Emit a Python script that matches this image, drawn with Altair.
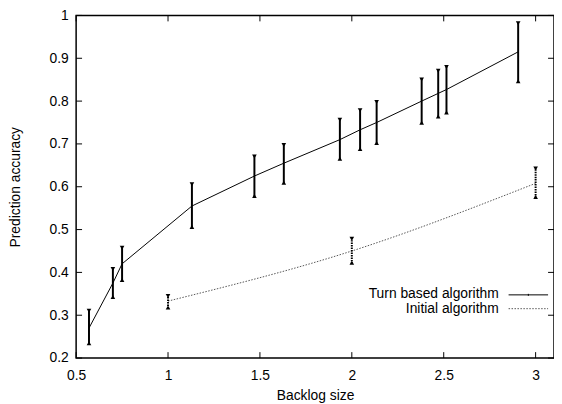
import altair as alt
import pandas as pd

# Turn based algorithm
tb_x = [0.57, 0.70, 0.75, 1.13, 1.47, 1.63, 1.935, 2.045, 2.135, 2.38, 2.47, 2.515, 2.905]
tb_y = [0.27, 0.375, 0.42, 0.555, 0.625, 0.655, 0.71, 0.733, 0.75, 0.80, 0.818, 0.827, 0.915]
tb_lo = [0.232, 0.34, 0.38, 0.504, 0.576, 0.607, 0.663, 0.686, 0.70, 0.747, 0.762, 0.771, 0.844]
tb_hi = [0.313, 0.41, 0.46, 0.608, 0.673, 0.70, 0.759, 0.781, 0.80, 0.853, 0.873, 0.882, 0.984]

# Initial algorithm
in_x = [1.0, 2.0, 3.0]
in_y = [0.333, 0.45, 0.608]
in_lo = [0.316, 0.42, 0.574]
in_hi = [0.347, 0.481, 0.645]

x_ticks = [0.5, 1.0, 1.5, 2.0, 2.5, 3.0]
y_ticks = [0.2, 0.3, 0.4, 0.5, 0.6, 0.7, 0.8, 0.9, 1.0]
legend_labels = ["Turn based algorithm", "Initial algorithm"]

W, H = 484, 347
FONT = "Liberation Sans"
FS = 14

tb = pd.DataFrame({"x": tb_x, "y": tb_y, "lo": tb_lo, "hi": tb_hi})
ini = pd.DataFrame({"x": in_x, "y": in_y, "lo": in_lo, "hi": in_hi})

xs = alt.Scale(domain=[0.5, 3.1], nice=False, zero=False)
ys = alt.Scale(domain=[0.2, 1.0], nice=False, zero=False)

xaxis = alt.Axis(values=x_ticks, format="~g", title="Backlog size", ticks=False, domain=False,
                 grid=False, labelFlush=False, labelPadding=10.5, labelFontSize=FS, labelFont=FONT,
                 labelColor="black", titleFont=FONT, titleFontSize=FS, titleFontWeight="normal",
                 titleColor="black", titlePadding=6)
yaxis = alt.Axis(values=y_ticks, format="~g", title="Prediction accuracy", ticks=False, domain=False,
                 grid=False, labelFlush=False, labelPadding=8, labelFontSize=FS, labelFont=FONT,
                 labelColor="black", titleFont=FONT, titleFontSize=FS, titleFontWeight="normal",
                 titleColor="black", titlePadding=27)

line_tb = alt.Chart(tb).mark_line(color="black", strokeWidth=1).encode(
    x=alt.X("x:Q", scale=xs, axis=xaxis),
    y=alt.Y("y:Q", scale=ys, axis=yaxis),
)
line_in = alt.Chart(ini).mark_line(color="#555", strokeWidth=1, strokeDash=[1.5, 1.5],
                                   interpolate="natural").encode(
    x=alt.X("x:Q", scale=xs), y=alt.Y("y:Q", scale=ys))

err_tb = alt.Chart(tb).mark_rule(color="black", strokeWidth=2).encode(
    x=alt.X("x:Q", scale=xs), y=alt.Y("lo:Q", scale=ys), y2="hi:Q")
err_in = alt.Chart(ini).mark_rule(color="black", strokeWidth=2, strokeDash=[1.5, 1]).encode(
    x=alt.X("x:Q", scale=xs), y=alt.Y("lo:Q", scale=ys), y2="hi:Q")

def caps(df):
    top = alt.Chart(df).mark_point(shape="triangle-down", filled=True, color="black", size=22,
                                   opacity=1, yOffset=1).encode(
        x=alt.X("x:Q", scale=xs), y=alt.Y("hi:Q", scale=ys))
    bot = alt.Chart(df).mark_point(shape="triangle-up", filled=True, color="black", size=22,
                                   opacity=1, yOffset=-1).encode(
        x=alt.X("x:Q", scale=xs), y=alt.Y("lo:Q", scale=ys))
    return top + bot

xt = pd.DataFrame({"t": x_ticks})
yt = pd.DataFrame({"t": y_ticks})
tick_b = alt.Chart(xt).mark_rule(color="black").encode(
    x=alt.X("t:Q", scale=xs), y=alt.value(H), y2=alt.value(H - 6))
tick_t = alt.Chart(xt).mark_rule(color="black").encode(
    x=alt.X("t:Q", scale=xs), y=alt.value(0), y2=alt.value(6))
tick_l = alt.Chart(yt).mark_rule(color="black").encode(
    y=alt.Y("t:Q", scale=ys), x=alt.value(0), x2=alt.value(6))
tick_r = alt.Chart(yt).mark_rule(color="black").encode(
    y=alt.Y("t:Q", scale=ys), x=alt.value(W), x2=alt.value(W - 6))

leg1 = pd.DataFrame({"label": [legend_labels[0]]})
leg2 = pd.DataFrame({"label": [legend_labels[1]]})
leg_t1 = alt.Chart(leg1).mark_text(
    align="right", baseline="middle", font=FONT, fontSize=FS, color="black").encode(
    text="label:N", x=alt.value(428), y=alt.value(282.5))
leg_t2 = alt.Chart(leg2).mark_text(
    align="right", baseline="middle", font=FONT, fontSize=FS, color="black").encode(
    text="label:N", x=alt.value(428), y=alt.value(297.5))
leg_l1 = alt.Chart(leg1).mark_rule(color="black", strokeWidth=1).encode(
    x=alt.value(438), x2=alt.value(478), y=alt.value(283))
leg_tick1 = alt.Chart(leg1).mark_rule(color="black", strokeWidth=1).encode(
    x=alt.value(458), y=alt.value(282), y2=alt.value(284))
leg_l2 = alt.Chart(leg2).mark_rule(color="#555", strokeWidth=1, strokeDash=[1.5, 1.5]).encode(
    x=alt.value(438), x2=alt.value(478), y=alt.value(297))

chart = alt.layer(
    line_tb, line_in, err_tb, err_in, caps(tb), caps(ini),
    tick_b, tick_t, tick_l, tick_r,
    leg_t1, leg_t2, leg_l1, leg_tick1, leg_l2,
).properties(
    width=W, height=H,
    autosize=alt.AutoSizeParams(type="none"),
    padding={"left": 69, "top": 5, "right": 0, "bottom": 44},
    background="white",
).configure_view(stroke="black", strokeWidth=1.5)

chart.save("out.html", embed_options={"renderer": "svg", "actions": False})
